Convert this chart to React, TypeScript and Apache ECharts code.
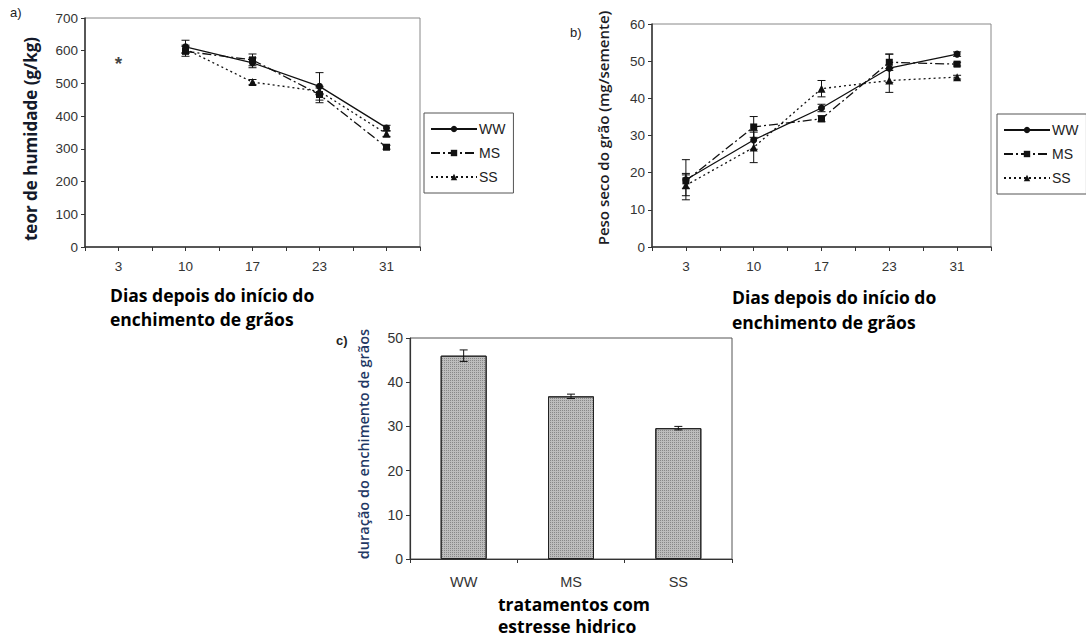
import React, { useEffect, useRef } from "react";
import * as echarts from "echarts";

// ---------- data ----------
const days = ["3", "10", "17", "23", "31"];
const seriesNames = ["WW", "MS", "SS"];

// panel a: teor de humidade (g/kg)
const moistWW = [null, 612, 563, 491, 364];
const moistMS = [null, 598, 572, 466, 305];
const moistSS = [null, 605, 504, 476, 346];
const moistErrWW = [null, 20, 15, 42, 8];
const moistErrMS = [null, 15, 18, 25, 6];
const moistErrSS = [null, 12, 8, 10, 8];
const moistStarDayIndex = 0;
const moistStarValue = 572;

// panel b: peso seco do grão (mg/semente)
const dryWW = [18.1, 28.8, 37.4, 48.1, 51.9];
const dryMS = [17.8, 32.3, 34.5, 49.7, 49.2];
const drySS = [16.6, 26.8, 42.6, 44.8, 45.7];
const dryErrWW = [5.4, 2.5, 1.0, 3.8, 0.6];
const dryErrMS = [2.0, 2.8, 0.8, 2.2, 0.5];
const dryErrSS = [2.8, 4.1, 2.2, 3.2, 0.5];

// panel c: duração do enchimento de grãos
const treatments = ["WW", "MS", "SS"];
const duration = [46.0, 36.8, 29.6];
const durationErr = [1.3, 0.5, 0.4];

const yTicksA = { min: 0, max: 700, interval: 100 };
const yTicksB = { min: 0, max: 60, interval: 10 };
const yTicksC = { min: 0, max: 50, interval: 10 };

// ---------- helpers ----------
const INK = "#111";
const TICK_FONT = "'Liberation Sans', Arial, sans-serif";
const TITLE_FONT = "'Open Sans', 'Noto Sans', sans-serif";

const lineTypes: Record<string, any> = {
  WW: "solid",
  MS: [9, 3, 2, 3],
  SS: [2, 3],
};
const symbols: Record<string, string> = { WW: "circle", MS: "rect", SS: "triangle" };
const symbolSizes: Record<string, number> = { WW: 7, MS: 7, SS: 8 };

function errData(vals: (number | null)[], errs: (number | null)[]) {
  const out: any[] = [];
  vals.forEach((v, i) => {
    const e = errs[i];
    if (v == null || e == null) return;
    out.push([i, v - e, v + e]);
  });
  return out;
}

function errorSeries(data: any[], xAxisIndex: number, yAxisIndex: number, cap: number) {
  return {
    type: "custom",
    xAxisIndex,
    yAxisIndex,
    silent: true,
    z: 5,
    encode: { x: 0, y: [1, 2] },
    data,
    renderItem: (params: any, api: any) => {
      const x = api.value(0);
      const lo = api.coord([x, api.value(1)]);
      const hi = api.coord([x, api.value(2)]);
      const st = { stroke: INK, lineWidth: 1 };
      return {
        type: "group",
        children: [
          { type: "line", shape: { x1: lo[0], y1: lo[1], x2: hi[0], y2: hi[1] }, style: st },
          { type: "line", shape: { x1: lo[0] - cap, y1: lo[1], x2: lo[0] + cap, y2: lo[1] }, style: st },
          { type: "line", shape: { x1: hi[0] - cap, y1: hi[1], x2: hi[0] + cap, y2: hi[1] }, style: st },
        ],
      };
    },
  };
}

function lineSeries(name: string, data: (number | null)[], xAxisIndex: number, yAxisIndex: number) {
  return {
    type: "line",
    name,
    xAxisIndex,
    yAxisIndex,
    data,
    symbol: symbols[name],
    symbolSize: symbolSizes[name],
    showAllSymbol: true,
    connectNulls: false,
    z: 4,
    lineStyle: { color: INK, width: 1.3, type: lineTypes[name] },
    itemStyle: { color: INK },
  };
}

const axisLineStyle = { color: "#333", width: 1.5 };

function catAxes(gridIndex: number) {
  return [
    {
      type: "category",
      gridIndex,
      position: "bottom",
      data: days,
      boundaryGap: true,
      axisLine: { lineStyle: axisLineStyle },
      axisTick: { show: true, interval: 0, length: 4, lineStyle: { color: "#333" } },
      axisLabel: { color: "#333", fontSize: 13.5, fontFamily: TICK_FONT, margin: 12, interval: 0 },
      splitLine: { show: false },
    },
    {
      type: "category",
      gridIndex,
      position: "bottom",
      data: days,
      boundaryGap: true,
      axisLine: { show: false },
      axisTick: { show: true, interval: 0, alignWithLabel: true, length: 4, lineStyle: { color: "#333" } },
      axisLabel: { show: false },
      splitLine: { show: false },
    },
  ];
}

function valAxis(gridIndex: number, t: { min: number; max: number; interval: number }, fontSize = 13.5) {
  return {
    type: "value",
    gridIndex,
    min: t.min,
    max: t.max,
    interval: t.interval,
    axisLine: { show: true, lineStyle: axisLineStyle },
    axisTick: { show: true, length: 4, lineStyle: { color: "#333" } },
    axisLabel: { color: "#333", fontSize, fontFamily: TICK_FONT, margin: 7 },
    splitLine: { show: false },
  };
}

function legend(left: number, top: number) {
  return {
    data: seriesNames,
    orient: "vertical",
    left,
    top,
    itemWidth: 46,
    itemHeight: 8,
    itemGap: 10,
    padding: [9, 8, 9, 6],
    borderColor: "#555",
    borderWidth: 1,
    selectedMode: false,
    textStyle: { color: "#222", fontSize: 14, fontFamily: TICK_FONT, padding: [0, 0, 0, -3] },
  };
}

function txt(text: string, x: number, y: number, style: any, rotation = 0) {
  return {
    type: "text",
    x,
    y,
    rotation,
    style: { text, ...style },
    silent: true,
  };
}

const xTitleStyle = {
  fill: "#000",
  font: `bold 17.5px ${TITLE_FONT}`,
  textAlign: "left",
  textVerticalAlign: "middle",
};

export default function App() {
  const ref = useRef<HTMLDivElement>(null);

  useEffect(() => {
    if (!ref.current) return;
    const chart = echarts.init(ref.current, null, { renderer: "svg" });

    const option: any = {
      animation: false,
      backgroundColor: "#fff",
      grid: [
        { left: 85, top: 18, width: 335, height: 229, show: true, borderColor: "#888", borderWidth: 1, backgroundColor: "transparent" },
        { left: 652, top: 24, width: 339, height: 223, show: true, borderColor: "#888", borderWidth: 1, backgroundColor: "transparent" },
        { left: 410, top: 338, width: 322, height: 221, show: true, borderColor: "#555", borderWidth: 1, backgroundColor: "transparent" },
      ],
      xAxis: [
        ...catAxes(0),
        ...catAxes(1),
        {
          type: "category",
          gridIndex: 2,
          data: treatments,
          boundaryGap: true,
          axisLine: { lineStyle: { color: "#333", width: 1.2 } },
          axisTick: { show: true, interval: 0, length: 4, lineStyle: { color: "#333" } },
          axisLabel: { color: "#333", fontSize: 14.5, fontFamily: TICK_FONT, margin: 15 },
        },
      ],
      yAxis: [
        valAxis(0, yTicksA),
        valAxis(1, yTicksB),
        { ...valAxis(2, yTicksC, 14), axisLine: { show: true, lineStyle: { color: "#333", width: 1.2 } } },
      ],
      legend: [legend(424, 113), legend(997, 114)],
      series: [
        // panel a
        lineSeries("WW", moistWW, 0, 0),
        lineSeries("MS", moistMS, 0, 0),
        lineSeries("SS", moistSS, 0, 0),
        errorSeries(errData(moistWW, moistErrWW), 0, 0, 4),
        errorSeries(errData(moistMS, moistErrMS), 0, 0, 4),
        errorSeries(errData(moistSS, moistErrSS), 0, 0, 4),
        {
          type: "scatter",
          xAxisIndex: 0,
          yAxisIndex: 0,
          data: [[moistStarDayIndex, moistStarValue]],
          symbolSize: 1,
          itemStyle: { color: "rgba(0,0,0,0)" },
          label: {
            show: true,
            position: "inside",
            formatter: "*",
            color: "#111",
            fontSize: 19,
            fontWeight: "bold",
            fontFamily: TICK_FONT,
            offset: [0, 4],
          },
        },
        // panel b
        lineSeries("WW", dryWW, 2, 1),
        lineSeries("MS", dryMS, 2, 1),
        lineSeries("SS", drySS, 2, 1),
        errorSeries(errData(dryWW, dryErrWW), 2, 1, 4),
        errorSeries(errData(dryMS, dryErrMS), 2, 1, 4),
        errorSeries(errData(drySS, dryErrSS), 2, 1, 4),
        // panel c
        {
          type: "bar",
          xAxisIndex: 4,
          yAxisIndex: 2,
          data: duration,
          barWidth: 46,
          itemStyle: {
            color: "#bdbdbd",
            borderColor: "#222",
            borderWidth: 1,
            decal: {
              symbol: "rect",
              symbolSize: 1,
              dashArrayX: [1, 1],
              dashArrayY: [1, 1],
              color: "rgba(70,70,70,0.45)",
              rotation: 0,
            },
          },
        },
        errorSeries(errData(duration, durationErr), 4, 2, 4),
      ],
      graphic: [
        txt("a)", 10, 12, { fill: "#222", font: `13px ${TICK_FONT}`, textAlign: "left", textVerticalAlign: "middle" }),
        txt("b)", 570, 32, { fill: "#222", font: `13px ${TICK_FONT}`, textAlign: "left", textVerticalAlign: "middle" }),
        txt("c)", 336, 340, { fill: "#222", font: `bold 13px ${TICK_FONT}`, textAlign: "left", textVerticalAlign: "middle" }),
        // y titles
        txt("teor de humidade (g/kg)", 30, 139, { fill: "#141a2a", font: `bold 17px ${TITLE_FONT}`, textAlign: "center", textVerticalAlign: "middle" }, Math.PI / 2),
        txt("Peso seco do grão (mg/semente)", 603, 128, { fill: "#1c1c24", font: `600 15px ${TITLE_FONT}`, textAlign: "center", textVerticalAlign: "middle" }, Math.PI / 2),
        txt("duração do enchimento de grãos", 363, 444, { fill: "#1f3864", font: `600 14.5px ${TITLE_FONT}`, textAlign: "center", textVerticalAlign: "middle" }, Math.PI / 2),
        // x titles
        txt("Dias depois do início do", 110, 295, xTitleStyle),
        txt("enchimento de grãos", 110, 319, xTitleStyle),
        txt("Dias depois do início do", 732, 297, xTitleStyle),
        txt("enchimento de grãos", 732, 322, xTitleStyle),
        txt("tratamentos com", 498, 604, xTitleStyle),
        txt("estresse hidrico", 498, 626, xTitleStyle),
      ],
    };

    chart.setOption(option);
    return () => chart.dispose();
  }, []);

  return (
    <div
      ref={ref}
      style={{ position: "absolute", left: 0, top: 0, width: 1086, height: 638, background: "#fff" }}
    />
  );
}
